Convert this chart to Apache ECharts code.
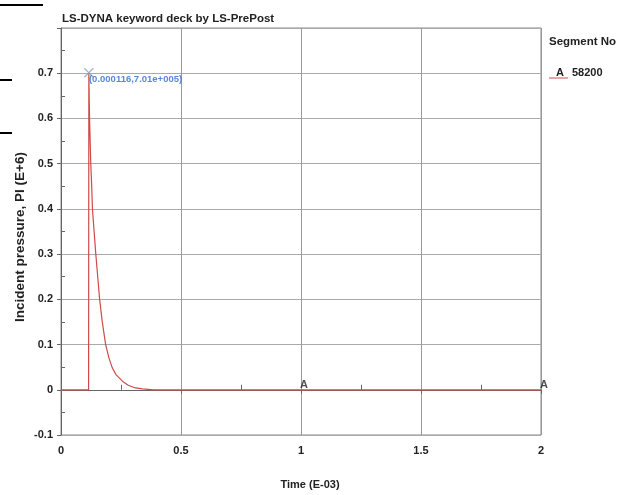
<!DOCTYPE html>
<html><head><meta charset="utf-8">
<script src="https://cdn.jsdelivr.net/npm/echarts@6/dist/echarts.min.js"></script>
<style>html,body{margin:0;padding:0;background:#fff}#c{width:622px;height:495px}</style>
</head><body><div id="c"></div>
<script>
var timeVals = [0, 0.115, 0.116, 0.119, 0.124, 0.128, 0.131, 0.137, 0.145, 0.153, 0.161, 0.172, 0.186, 0.2, 0.214, 0.23, 0.256, 0.28, 0.31, 0.34, 0.385, 2.0];
var pressure = [0, 0, 0.701, 0.6, 0.5, 0.45, 0.4, 0.357, 0.3, 0.25, 0.2, 0.15, 0.1, 0.07, 0.048, 0.033, 0.019, 0.01, 0.004, 0.002, 0, 0];
var peakPoint = [0.116, 0.701];
var peakLabel = '(0.000116,7.01e+005)';
var markerTimes = [1, 2];
var markerVals = [0, 0];
var seriesName = '58200';
var legendTitle = 'Segment No';
var xTicks = [0, 0.5, 1, 1.5, 2];
var yTicks = [-0.1, 0, 0.1, 0.2, 0.3, 0.4, 0.5, 0.6, 0.7];

var FONT = 'Liberation Sans';
var chart = echarts.init(document.getElementById('c'), null, {renderer: 'canvas'});
var lineData = timeVals.map(function (t, i) { return [t, pressure[i]]; });
var markerData = markerTimes.map(function (t, i) { return [t, markerVals[i]]; });

chart.setOption({
  animation: false,
  backgroundColor: '#fff',
  textStyle: {fontFamily: FONT},
  title: {
    text: 'LS-DYNA keyword deck by LS-PrePost',
    left: 57, top: 8,
    textStyle: {fontFamily: FONT, fontSize: 11.5, fontWeight: 'bold', color: '#222'}
  },
  grid: {left: 61, right: 81, top: 28, bottom: 58, show: true, borderColor: '#888', borderWidth: 1, backgroundColor: 'transparent'},
  xAxis: {
    type: 'value', min: 0, max: 2, interval: 0.5,
    name: 'Time (E-03)', nameLocation: 'middle', nameGap: 44,
    nameTextStyle: {fontFamily: FONT, fontSize: 11, fontWeight: 'bold', color: '#222', padding: [0, 0, 0, 18]},
    axisLine: {show: true, lineStyle: {color: '#666', width: 1}},
    axisTick: {show: true, length: 4, inside: false, lineStyle: {color: '#666'}},
    minorTick: {show: true, splitNumber: 2, length: -5, lineStyle: {color: '#666'}},
    axisLabel: {fontFamily: FONT, fontSize: 11, fontWeight: 'bold', color: '#222', margin: 10,
      formatter: function (v) { return xTicks.indexOf(+v.toFixed(3)) >= 0 ? String(+v.toFixed(3)) : ''; }},
    splitLine: {show: true, lineStyle: {color: '#999', width: 1}}
  },
  yAxis: {
    type: 'value', min: -0.1, max: 0.8, interval: 0.1,
    name: 'Incident pressure, PI (E+6)', nameLocation: 'middle', nameGap: 34, nameMoveOverlap: false,
    nameTextStyle: {fontFamily: FONT, fontSize: 13.5, fontWeight: 700, color: '#222', padding: [0, 11, 0, 0]},
    axisLine: {show: true, lineStyle: {color: '#666', width: 1}},
    axisTick: {show: true, length: 4, inside: false, lineStyle: {color: '#666'}},
    minorTick: {show: true, splitNumber: 2, length: -4, lineStyle: {color: '#666'}},
    axisLabel: {fontFamily: FONT, fontSize: 11, fontWeight: 'bold', color: '#222', margin: 8,
      formatter: function (v) { var r = +v.toFixed(3); return yTicks.indexOf(r) >= 0 ? String(r) : ''; }},
    splitLine: {show: true, lineStyle: {color: '#aaa', width: 1}}
  },
  series: [
    {
      name: seriesName, type: 'line', data: lineData, symbol: 'none', smooth: false,
      lineStyle: {color: '#d04a4a', width: 1.2}, z: 3
    },
    {
      type: 'scatter', data: [peakPoint], symbol: 'path://M0,0L10,10M10,0L0,10', symbolSize: 9,
      itemStyle: {color: 'rgba(0,0,0,0)', borderColor: '#8aa0c0', borderWidth: 1.2}, z: 4,
      label: {show: true, position: 'right', offset: [-10, 7], formatter: peakLabel,
        fontFamily: FONT, fontSize: 9.5, fontWeight: 'bold', color: '#2a6ad0'}
    },
    {
      type: 'scatter', data: markerData, symbol: 'circle', symbolSize: 1,
      itemStyle: {color: 'rgba(0,0,0,0)'}, z: 5,
      label: {show: true, position: 'top', distance: -1, offset: [3, 0], formatter: 'A',
        fontFamily: FONT, fontSize: 11, fontWeight: 'bold', color: '#222'}
    }
  ],
  graphic: [
    {type: 'text', left: 549, top: 36, style: {text: legendTitle, font: 'bold 11.5px "Liberation Sans"', fill: '#222'}},
    {type: 'text', left: 556, top: 67, style: {text: 'A', font: 'bold 11px "Liberation Sans"', fill: '#222'}},
    {type: 'text', left: 572, top: 67, style: {text: seriesName, font: 'bold 11px "Liberation Sans"', fill: '#222'}},
    {type: 'line', shape: {x1: 549, y1: 78, x2: 568, y2: 78}, style: {stroke: '#d04a4a', lineWidth: 1}},
    {type: 'line', shape: {x1: 0, y1: 5, x2: 43, y2: 5}, style: {stroke: '#000', lineWidth: 2}},
    {type: 'line', shape: {x1: 0, y1: 80, x2: 12, y2: 80}, style: {stroke: '#000', lineWidth: 2}},
    {type: 'line', shape: {x1: 0, y1: 133, x2: 12, y2: 133}, style: {stroke: '#000', lineWidth: 2}}
  ]
});
</script></body></html>
